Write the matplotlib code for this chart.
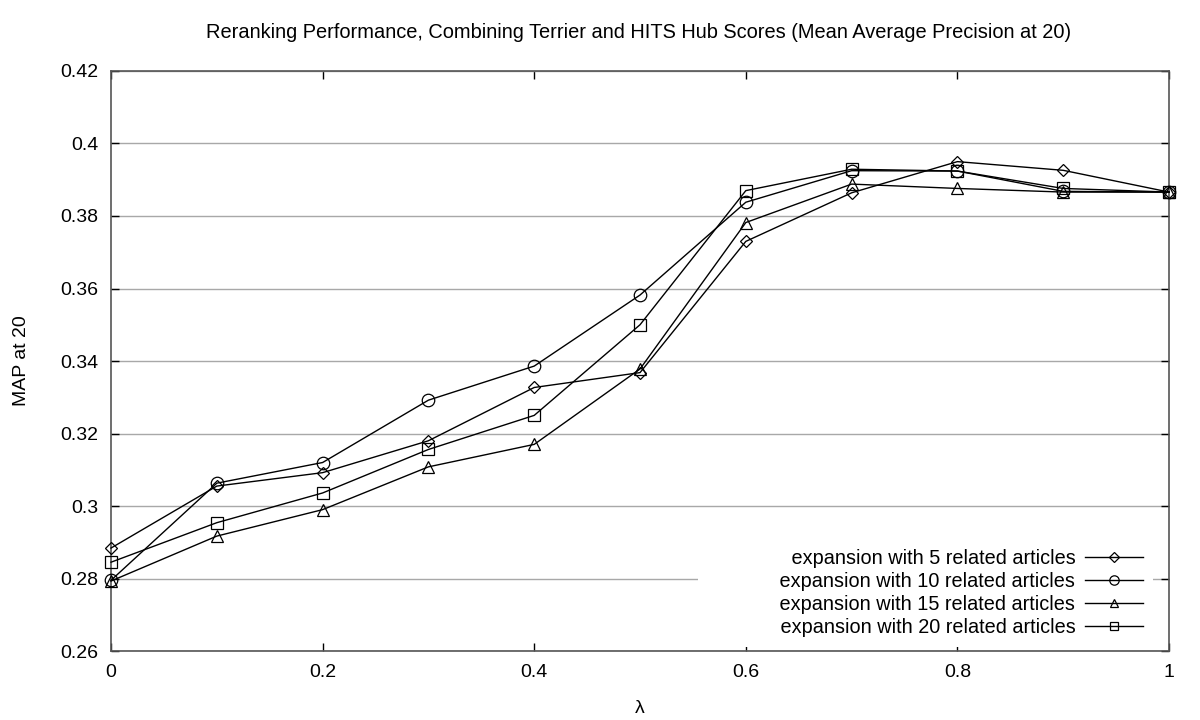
import matplotlib
matplotlib.use("Agg")
import matplotlib.pyplot as plt

plt.rcParams['font.family'] = ['Liberation Sans', 'DejaVu Sans']

# lambda values
lam = [0.0, 0.1, 0.2, 0.3, 0.4, 0.5, 0.6, 0.7, 0.8, 0.9, 1.0]

# MAP at 20 for each expansion size
map_5 = [0.2884, 0.3055, 0.3092, 0.3180, 0.3327, 0.3368, 0.3730, 0.3864, 0.3950, 0.3926, 0.3866]
map_10 = [0.2795, 0.3063, 0.3120, 0.3292, 0.3386, 0.3582, 0.3838, 0.3925, 0.3924, 0.3868, 0.3866]
map_15 = [0.2793, 0.2917, 0.2990, 0.3108, 0.3170, 0.3378, 0.3782, 0.3888, 0.3876, 0.3866, 0.3866]
map_20 = [0.2845, 0.2954, 0.3036, 0.3156, 0.3250, 0.3500, 0.3870, 0.3929, 0.3924, 0.3876, 0.3866]

series = [
    ('expansion with 5 related articles', map_5, 'D', 6.5),
    ('expansion with 10 related articles', map_10, 'o', 9),
    ('expansion with 15 related articles', map_15, '^', 8.5),
    ('expansion with 20 related articles', map_20, 's', 8.5),
]

fig = plt.figure(figsize=(12, 7.2), dpi=100)
ax = fig.add_axes([0.0925, 0.0958, 0.8817, 0.8056])

for label, vals, mk, ms in series:
    # leading blanks widen the (white) legend box like gnuplot's key does
    ax.plot(lam, vals, color='black', linewidth=1.0, marker=mk, markersize=ms,
            markerfacecolor='none', markeredgecolor='black', markeredgewidth=0.9,
            label=' ' * 13 + label, clip_on=False, zorder=3)

ax.set_xlim(0, 1)
ax.set_ylim(0.26, 0.42)
ax.set_xticks([0, 0.2, 0.4, 0.6, 0.8, 1.0])
ax.set_xticklabels(['0', '0.2', '0.4', '0.6', '0.8', '1'])
ax.set_yticks([0.26, 0.28, 0.30, 0.32, 0.34, 0.36, 0.38, 0.40, 0.42])
ax.set_yticklabels(['0.26', '0.28', '0.3', '0.32', '0.34', '0.36', '0.38', '0.4', '0.42'])
ax.grid(axis='y', color='#a8a8a8', linewidth=1.0)
ax.tick_params(direction='in', length=6, width=1, top=True, right=True,
               labelsize=14, pad=9, color='black')
for sp in ax.spines.values():
    sp.set_color('#555555')
    sp.set_linewidth(1.2)

ax.set_xlabel('λ', fontsize=14, labelpad=14)
ax.set_ylabel('MAP at 20', fontsize=14, labelpad=22)
fig.suptitle('Reranking Performance, Combining Terrier and HITS Hub Scores (Mean Average Precision at 20)',
             fontsize=14.4, x=0.532, y=0.968)

leg = ax.legend(loc='lower right', bbox_to_anchor=(0.994, -0.01), markerfirst=False,
                fontsize=14.3, frameon=True, fancybox=False, framealpha=1.0,
                edgecolor='white', handlelength=2.9, labelspacing=0.2,
                borderpad=0.5, handletextpad=0.5, markerscale=0.75)
leg.get_frame().set_linewidth(0)
leg.set_zorder(5)

fig.savefig('out.png', dpi=100)
